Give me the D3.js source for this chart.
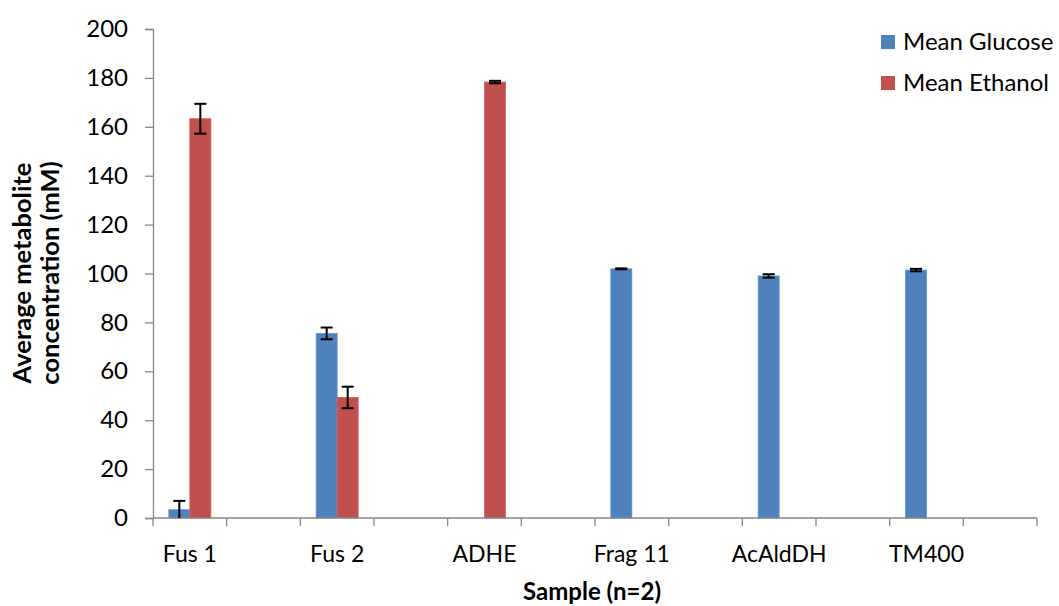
<!DOCTYPE html>
<html>
<head>
<meta charset="utf-8">
<script src="https://cdn.jsdelivr.net/npm/d3@7"></script>
<style>
  html, body { margin: 0; padding: 0; background: #fff; }
  svg { display: block; font-family: "Lato", "Open Sans", sans-serif; }
</style>
</head>
<body>
<svg id="chart" width="1059" height="606"></svg>
<script>
// ---- Data ----
const categories = ["Fus 1", "Fus 2", "ADHE", "Frag 11", "AcAldDH", "TM400"];
const seriesNames = ["Mean Glucose", "Mean Ethanol"];
const glucose = [3.4, 75.5, 0, 101.9, 99.0, 101.4];
const glucoseErr = [3.6, 2.4, 0, 0.2, 0.7, 0.5];
const ethanol = [163.3, 49.3, 178.3, 0, 0, 0];
const ethanolErr = [6.1, 4.4, 0.5, 0, 0, 0];
const yTicks = [0, 20, 40, 60, 80, 100, 120, 140, 160, 180, 200];
const colors = ["#4F81BD", "#C0504D"];

// ---- Layout ----
const svg = d3.select("#chart");
const plotLeft = 153, plotRight = 1037, plotTop = 29, plotBottom = 518;
const slotCount = categories.length * 2;
const axisColor = "#868686";
const fontSize = 23;

const x = d3.scaleBand().domain(d3.range(slotCount)).range([plotLeft, plotRight]).padding(0);
const y = d3.scaleLinear().domain([0, 200]).range([plotBottom, plotTop]);
const bw = x.bandwidth();
const groupW = bw * 0.57;
const xs = d3.scaleBand().domain(seriesNames).range([(bw - groupW) / 2, (bw + groupW) / 2]).padding(0);

// Y axis
const yAxis = d3.axisLeft(y).tickValues(yTicks).tickSize(8).tickPadding(17);
const gy = svg.append("g").attr("transform", `translate(${plotLeft},0)`).call(yAxis);
gy.select(".domain").attr("stroke", axisColor).attr("stroke-width", 1.3);
gy.selectAll(".tick line").attr("stroke", axisColor).attr("stroke-width", 1.3);
gy.selectAll(".tick text").attr("font-size", 24).attr("fill", "#000")
  .attr("font-family", "Lato, 'Open Sans', sans-serif");

// Bars
const data = [];
categories.forEach((c, i) => {
  data.push({ slot: i * 2, s: seriesNames[0], v: glucose[i], e: glucoseErr[i], col: colors[0] });
  data.push({ slot: i * 2, s: seriesNames[1], v: ethanol[i], e: ethanolErr[i], col: colors[1] });
});

const gBars = svg.append("g");
gBars.selectAll("rect").data(data).join("rect")
  .attr("x", d => x(d.slot) + xs(d.s))
  .attr("width", xs.bandwidth())
  .attr("y", d => y(d.v))
  .attr("height", d => Math.max(0, y(0) - y(d.v)))
  .attr("fill", d => d.col)
  .attr("stroke", d => d.v > 0 ? d3.color(d.col).brighter(0.4) : "#c8c8c8")
  .attr("stroke-width", 0.8);

// X axis line and boundary ticks
svg.append("line").attr("x1", plotLeft).attr("x2", plotRight).attr("y1", plotBottom).attr("y2", plotBottom)
  .attr("stroke", axisColor).attr("stroke-width", 1.3);
const bounds = d3.range(slotCount + 1).map(i => i < slotCount ? x(i) : plotRight);
svg.append("g").selectAll("line").data(bounds).join("line")
  .attr("x1", d => d).attr("x2", d => d)
  .attr("y1", plotBottom).attr("y2", plotBottom + 8)
  .attr("stroke", axisColor).attr("stroke-width", 1.3);

// Category labels
svg.append("g").selectAll("text").data(categories).join("text")
  .attr("x", (d, i) => x(i * 2) + bw / 2)
  .attr("y", 562)
  .attr("text-anchor", "middle")
  .attr("font-size", fontSize)
  .attr("fill", "#000")
  .text(d => d);

// Error bars
const capW = 12;
const gErr = svg.append("g").attr("stroke", "#000").attr("stroke-width", 2).attr("fill", "none");
data.filter(d => d.e > 0).forEach(d => {
  const cx = x(d.slot) + xs(d.s) + xs.bandwidth() / 2;
  const y1 = y(d.v + d.e), y2 = y(Math.max(0, d.v - d.e));
  gErr.append("line").attr("x1", cx).attr("x2", cx).attr("y1", y1).attr("y2", y2);
  gErr.append("line").attr("x1", cx - capW / 2).attr("x2", cx + capW / 2).attr("y1", y1).attr("y2", y1);
  if (d.v - d.e > 0)
    gErr.append("line").attr("x1", cx - capW / 2).attr("x2", cx + capW / 2).attr("y1", y2).attr("y2", y2);
});

// Axis titles
svg.append("text")
  .attr("x", 592).attr("y", 600)
  .attr("text-anchor", "middle")
  .attr("font-size", 24).attr("font-weight", "bold").attr("fill", "#000")
  .text("Sample (n=2)");

const yt = svg.append("text")
  .attr("transform", "translate(0,273) rotate(-90)")
  .attr("text-anchor", "middle")
  .attr("font-size", 25.5).attr("font-weight", "bold").attr("fill", "#000");
yt.append("tspan").attr("x", 0).attr("y", 31).text("Average metabolite");
yt.append("tspan").attr("x", 0).attr("y", 59).text("concentration (mM)");

// Legend
const leg = svg.append("g");
seriesNames.forEach((s, i) => {
  leg.append("rect").attr("x", 881).attr("y", 35 + i * 41).attr("width", 14).attr("height", 14)
    .attr("fill", colors[i]);
  leg.append("text").attr("x", 903).attr("y", 50 + i * 41)
    .attr("font-size", 24).attr("fill", "#000").text(s);
});
</script>
</body>
</html>
